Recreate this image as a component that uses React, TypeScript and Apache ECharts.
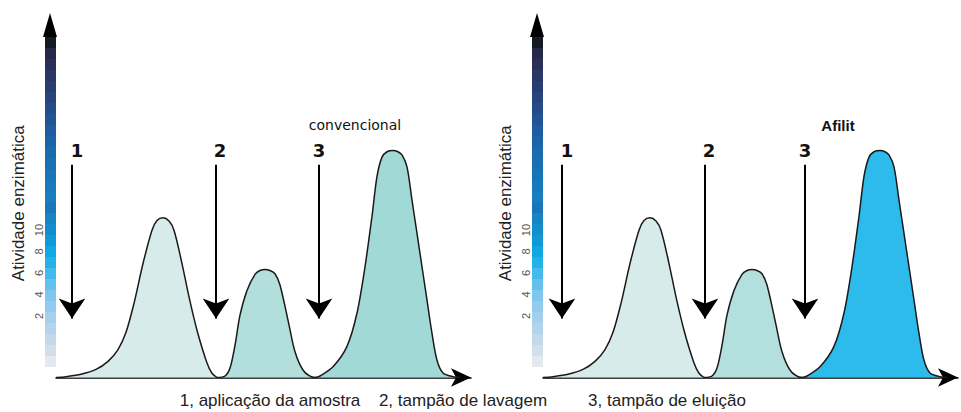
import React, { useEffect, useRef } from "react";
import * as echarts from "echarts";

// ---- data ----
const tickLabels = [2, 4, 6, 8, 10];
const yAxisName = "Atividade enzimática";
const panelTitles = ["convencional", "Afilit"];
const stepLabels = ["1", "2", "3"];
const captions = ["1, aplicação da amostra", "2, tampão de lavagem", "3, tampão de eluição"];

// peaks: [elution position, activity]
const peak1 = [[0, 0], [10, 0.08], [25, 0.3], [40, 0.75], [52, 1.5], [62, 2.6], [70, 4.2], [78, 6.9], [87, 10.6], [96, 13.7], [101, 14.6], [107, 14.85], [113, 14.55], [118, 13.7], [126, 10.6], [133, 7.5], [141, 4.4], [151, 1.35], [156, 0.4], [161, 0]];
const peak2 = [[161, 0], [169, 0.14], [174, 0.88], [179, 3.0], [184, 5.8], [191, 8.1], [199, 9.6], [204, 9.95], [209, 10.05], [214, 9.95], [219, 9.65], [224, 8.6], [233, 4.9], [239, 2.4], [247, 0.7], [256, 0.05], [261, 0]];
const peak3 = [[260, 0], [264, 0.14], [277, 1.0], [291, 2.9], [301, 6.0], [309, 10.3], [316, 15.0], [321, 18.7], [326, 20.5], [331, 21.0], [337, 21.12], [342, 21.0], [346, 20.7], [351, 19.6], [356, 16.5], [361, 13.4], [366, 10.3], [371, 7.2], [376, 4.1], [381, 1.6], [387, 0.42], [397, 0.07], [404, 0]];
const arrowsLeft = [16, 160, 263];
const arrowsRight = [19, 162, 262];
const arrowTop = 19.8;
const arrowEnd = 5.5;

// ---- styles ----
const BAND_COLORS = [
  "#E3E9EF", "#D2DEEA", "#C3D9EB", "#B3D4ED", "#A4D0EE", "#93CBEE", "#7FC7EE", "#62C1ED",
  "#43BAEB", "#22B2E8", "#10A8E2", "#0F9AD7", "#138ECD", "#1784C4", "#1876B9", "#197EC1",
  "#1979BD", "#1A74B8", "#1A6EB2", "#1A6AAE", "#1C64A8", "#1E5C9F", "#215494", "#244C88",
  "#26457C", "#283D70", "#2A3764", "#292F56", "#252946", "#141A24",
];
const PEAK_COLORS = [
  ["#D6EBEA", "#B2DEDB", "#A0D9D5"],
  ["#D6EBEA", "#B3DFDC", "#2DBBEB"],
];
const LABEL_OFFSETS = [[5, 0], [4, 0], [0, 0]];
const GRID_LEFTS = [56, 543];
const GRID_TOP = 13;
const GRID_W = 415;
const GRID_H = 364.5;
const PX_PER_UNIT = 10.75;
const LABEL_MIN = 2 - (GRID_TOP + GRID_H - 316) / PX_PER_UNIT;

export default function App() {
  const ref = useRef<HTMLDivElement>(null);
  useEffect(() => {
    const chart = echarts.init(ref.current!, null, { renderer: "svg" });
    const stops: any[] = [];
    BAND_COLORS.forEach((c, i) => {
      const n = BAND_COLORS.length;
      stops.push({ offset: i / n, color: c }, { offset: (i + 1) / n, color: c });
    });

    const grids: any[] = [];
    const xAxes: any[] = [];
    const yAxes: any[] = [];
    const series: any[] = [];
    const graphics: any[] = [];
    const peaks = [peak1, peak2, peak3];

    GRID_LEFTS.forEach((gl, p) => {
      grids.push({ left: gl, top: GRID_TOP, width: GRID_W, height: GRID_H });
      xAxes.push({
        gridIndex: p, type: "value", min: 0, max: GRID_W,
        axisLine: { show: true, onZero: false, symbol: ["none", "arrow"], symbolSize: [14, 20], lineStyle: { color: "#000", width: 1.5 } },
        axisTick: { show: false }, axisLabel: { show: false }, splitLine: { show: false },
      });
      yAxes.push({
        gridIndex: p, type: "value", min: LABEL_MIN, max: LABEL_MIN + GRID_H / PX_PER_UNIT,
        name: yAxisName, nameLocation: "middle", nameRotate: 90, nameGap: 29,
        nameTextStyle: { fontFamily: "Liberation Sans", fontSize: 17, color: "#222", padding: [0, 16, 0, 0] },
        axisLine: { show: false }, axisTick: { show: false }, splitLine: { show: false },
        axisLabel: { show: true, customValues: tickLabels, rotate: 90, margin: 12, fontSize: 11, color: "#555", fontFamily: "Liberation Sans" },
      });
      yAxes.push({
        gridIndex: p, type: "value", min: 0, max: GRID_H / PX_PER_UNIT, show: false,
      });
      peaks.forEach((pk, k) => {
        series.push({
          type: "line", xAxisIndex: p, yAxisIndex: p * 2 + 1, data: pk, smooth: 0.3,
          showSymbol: false, symbol: "none",
          lineStyle: { color: "#1a1a1a", width: 1.5 },
          areaStyle: { color: PEAK_COLORS[p][k], opacity: 1 },
          z: 2,
        });
      });
      const arr = p === 0 ? arrowsLeft : arrowsRight;
      series.push({
        type: "lines", coordinateSystem: "cartesian2d", xAxisIndex: p, yAxisIndex: p * 2 + 1,
        symbol: ["none", "arrow"], symbolSize: [12, 20],
        lineStyle: { color: "#000", width: 2, opacity: 1 },
        label: { show: true, position: "start", distance: 5, formatter: "{b}", fontFamily: "DejaVu Sans", fontWeight: "bold", fontSize: 18, color: "#111" },
        data: arr.map((x, i) => ({ name: stepLabels[i], coords: [[x, arrowTop], [x, arrowEnd]], label: { offset: LABEL_OFFSETS[i] } })),
        z: 3,
      });
      // gradient y bar + arrowhead
      graphics.push({
        type: "rect", z: 10, shape: { x: gl - 11, y: 37, width: 11, height: 330 },
        style: { fill: new echarts.graphic.LinearGradient(0, 1, 0, 0, stops) },
      });
      graphics.push({
        type: "polygon", z: 10, shape: { points: [[gl - 13, 37], [gl + 1, 37], [gl - 6, 13]] },
        style: { fill: "#000" },
      });
    });

    graphics.push({
      type: "text", x: 355, y: 125, z: 10,
      style: { text: panelTitles[0], font: "14px 'DejaVu Sans'", fill: "#111", align: "center", verticalAlign: "middle", textAlign: "center", textVerticalAlign: "middle" },
    });
    graphics.push({
      type: "text", x: 838, y: 125, z: 10,
      style: { text: panelTitles[1], font: "bold 15px 'Liberation Sans'", fill: "#111", align: "center", verticalAlign: "middle", textAlign: "center", textVerticalAlign: "middle" },
    });
    const capX = [270, 463, 667];
    captions.forEach((c, i) => {
      graphics.push({
        type: "text", x: capX[i], y: 400, z: 10,
        style: { text: c, font: "17px 'Liberation Sans'", fill: "#222", align: "center", verticalAlign: "middle", textAlign: "center", textVerticalAlign: "middle" },
      });
    });

    chart.setOption({
      animation: false,
      backgroundColor: "#fff",
      grid: grids,
      xAxis: xAxes,
      yAxis: yAxes,
      series,
      graphic: { elements: graphics },
    });
    return () => chart.dispose();
  }, []);
  return <div ref={ref} style={{ position: "fixed", left: 0, top: 0, width: 961, height: 412 }} />;
}
